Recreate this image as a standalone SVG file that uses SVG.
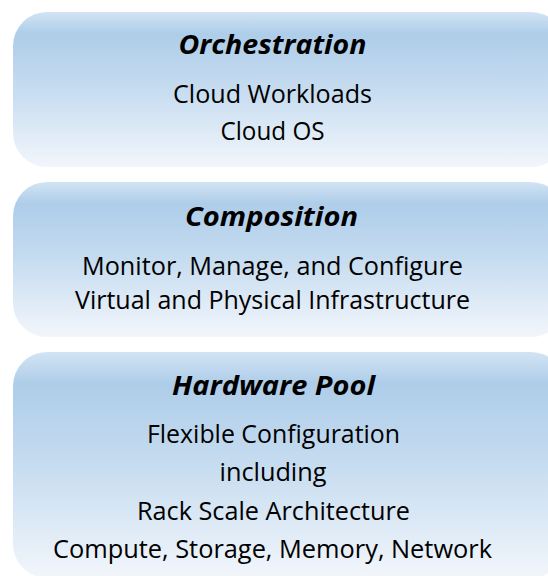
<svg xmlns="http://www.w3.org/2000/svg" width="548" height="576" viewBox="0 0 548 576">
<defs>
<linearGradient id="g" x1="0" y1="0" x2="0" y2="1">
<stop offset="0" stop-color="#d2e4f4"/>
<stop offset="0.14" stop-color="#aecde9"/>
<stop offset="0.5" stop-color="#c6dcf0"/>
<stop offset="1" stop-color="#f2f6fb"/>
</linearGradient>
<style>
.box{fill:url(#g);}
text{font-family:"Open Sans",Lato,"Liberation Sans",sans-serif;fill:#000;text-anchor:middle;font-variant-ligatures:none;}
.t{font-size:27px;font-weight:bold;font-style:italic;}
.b{font-size:26px;}
</style>
</defs>
<rect width="548" height="576" fill="#ffffff"/>
<g id="orchestration">
<rect class="box" x="13" y="12" width="552" height="155" rx="34" ry="34"/>
<text class="t" x="272.5" y="54" textLength="188" lengthAdjust="spacingAndGlyphs">Orchestration</text>
<text class="b" x="272.5" y="103" textLength="199" lengthAdjust="spacingAndGlyphs">Cloud Workloads</text>
<text class="b" x="272.5" y="140" textLength="104" lengthAdjust="spacingAndGlyphs">Cloud OS</text>
</g>
<g id="composition">
<rect class="box" x="13" y="182" width="552" height="155" rx="34" ry="34"/>
<text class="t" x="271.5" y="226" textLength="173" lengthAdjust="spacingAndGlyphs">Composition</text>
<text class="b" x="272.5" y="275" textLength="381" lengthAdjust="spacingAndGlyphs">Monitor, Manage, and Configure</text>
<text class="b" x="272.5" y="309" textLength="395" lengthAdjust="spacingAndGlyphs">Virtual and Physical Infrastructure</text>
</g>
<g id="hardware-pool">
<rect class="box" x="13" y="352" width="552" height="226" rx="34" ry="34"/>
<text class="t" x="273.5" y="395" textLength="203" lengthAdjust="spacingAndGlyphs">Hardware Pool</text>
<text class="b" x="273.5" y="443" textLength="253" lengthAdjust="spacingAndGlyphs">Flexible Configuration</text>
<text class="b" x="273" y="481" textLength="107" lengthAdjust="spacingAndGlyphs">including</text>
<text class="b" x="273.5" y="520" textLength="273" lengthAdjust="spacingAndGlyphs">Rack Scale Architecture</text>
<text class="b" x="272.5" y="558" textLength="439" lengthAdjust="spacingAndGlyphs">Compute, Storage, Memory, Network</text>
</g>
<g id="connectors"/>
</svg>
